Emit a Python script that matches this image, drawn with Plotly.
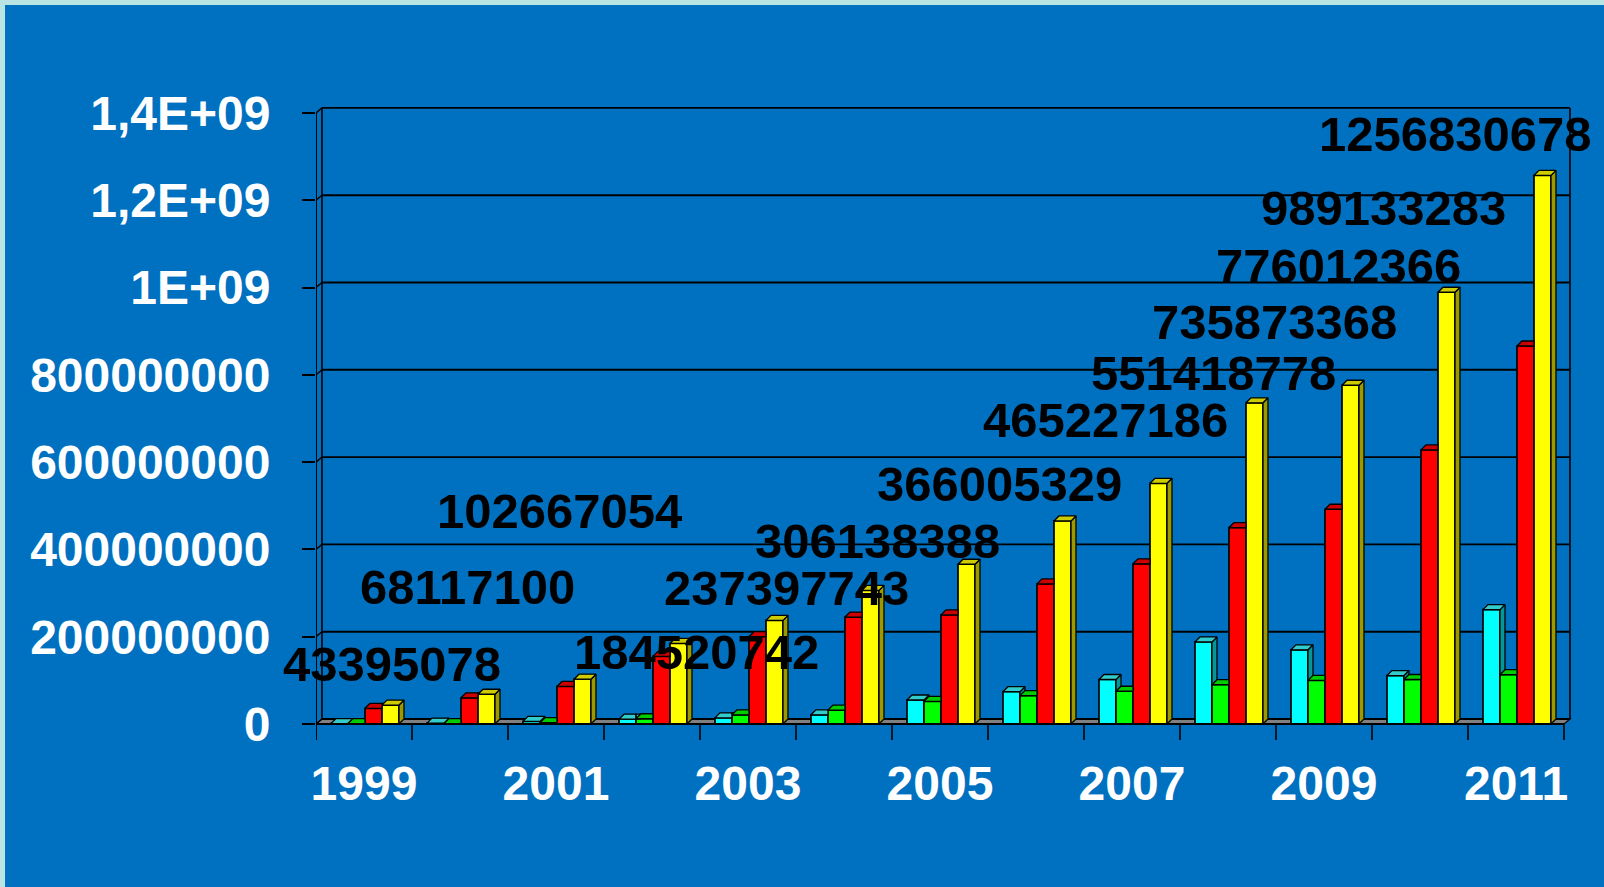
import plotly.graph_objects as go

# ---------------- data ----------------
years = [1999, 2000, 2001, 2002, 2003, 2004, 2005, 2006, 2007, 2008, 2009, 2010, 2011]
cyan_vals = [1e6, 2e6, 6e6, 11e6, 14e6, 21e6, 55e6, 74e6, 102e6, 188e6, 170e6, 111e6, 262e6]
green_vals = [1e6, 1e6, 3e6, 12e6, 21e6, 32e6, 52e6, 65e6, 75e6, 90e6, 100e6, 102e6, 113e6]
red_vals = [36e6, 60e6, 86e6, 155e6, 200e6, 245e6, 250e6, 321e6, 367e6, 450e6, 492e6, 628e6, 866e6]
yellow_vals = [43395078, 68117100, 102667054, 184520742, 237397743, 306138388,
               366005329, 465227186, 551418778, 735873368, 776012366, 989133283,
               1256830678]
year_ticks = [1999, 2001, 2003, 2005, 2007, 2009, 2011]
y_tickvals = [0, 2e8, 4e8, 6e8, 8e8, 1e9, 1.2e9, 1.4e9]
y_ticktext = ["0", "200000000", "400000000", "600000000", "800000000",
              "1E+09", "1,2E+09", "1,4E+09"]

# ---------------- geometry / style ----------------
FIG_W, FIG_H = 1604, 887
M_L, M_R, M_T, M_B = 316, 24, 100, 142
PLOT_W = FIG_W - M_L - M_R
PLOT_H = FIG_H - M_T - M_B
PX_PER_CAT = 96.0
PX_PER_VAL = 87.3 / 2e8
ZERO_PX = 724.0

X_RANGE = [-0.5, -0.5 + PLOT_W / PX_PER_CAT]
Y_RANGE = [-(M_T + PLOT_H - ZERO_PX) / PX_PER_VAL, (ZERO_PX - M_T) / PX_PER_VAL]

BAR_W = 17 / PX_PER_CAT
BAR_OFFSETS = [-0.5 + 15 / PX_PER_CAT + k * BAR_W for k in range(4)]
DX_BAR, DY_BAR = 5 / PX_PER_CAT, 5 / PX_PER_VAL      # bar depth
DX_WALL, DY_WALL = 6 / PX_PER_CAT, 5 / PX_PER_VAL    # wall/floor depth
TICK_DOWN = 16 / PX_PER_VAL

BG_BLUE = "#0070C0"
EDGE = "#B8E4E4"
FONT = "Liberation Sans, Arial, sans-serif"

series = [
    dict(vals=cyan_vals, front="#00FFFF", top="#33CCCC", side="#009999"),
    dict(vals=green_vals, front="#00FF00", top="#00CC00", side="#009900"),
    dict(vals=red_vals, front="#FF0000", top="#CC0000", side="#990000"),
    dict(vals=yellow_vals, front="#FFFF00", top="#CCCC00", side="#999900"),
]

# pixel offsets of each value label from the top centre of its yellow bar
label_shift = [(1.5, -40.6), (-19, -106.8), (-23.5, -168), (17.5, 9), (11.5, -32),
               (6.5, -49), (32.5, -80), (42.5, -101), (54.5, -110), (19.5, -81),
               (-12.5, -119), (-63.5, -84), (-87, -41)]


# ---------------- polygon helpers ----------------
def clip(poly, inside, inter):
    out = []
    n = len(poly)
    for i in range(n):
        cur, prev = poly[i], poly[i - 1]
        if inside(cur):
            if not inside(prev):
                out.append(inter(prev, cur))
            out.append(cur)
        elif inside(prev):
            out.append(inter(prev, cur))
    return out


def clip_x_le(poly, c):
    def inter(p, q):
        t = (c - p[0]) / (q[0] - p[0])
        return (c, p[1] + t * (q[1] - p[1]))
    return clip(poly, lambda p: p[0] <= c + 1e-12, inter)


def clip_x_ge(poly, c):
    def inter(p, q):
        t = (c - p[0]) / (q[0] - p[0])
        return (c, p[1] + t * (q[1] - p[1]))
    return clip(poly, lambda p: p[0] >= c - 1e-12, inter)


def clip_y_ge(poly, c):
    def inter(p, q):
        t = (c - p[1]) / (q[1] - p[1])
        return (p[0] + t * (q[0] - p[0]), c)
    return clip(poly, lambda p: p[1] >= c - 1e-3, inter)


def area_px(poly):
    if len(poly) < 3:
        return 0.0
    s = 0.0
    for i in range(len(poly)):
        x0, y0 = poly[i - 1]
        x1, y1 = poly[i]
        s += (x0 * PX_PER_CAT) * (y1 * PX_PER_VAL) - (x1 * PX_PER_CAT) * (y0 * PX_PER_VAL)
    return abs(s) / 2


def polys_to_xy(polys):
    xs, ys = [], []
    for p in polys:
        if area_px(p) < 0.3:
            continue
        for (x, y) in p + [p[0]]:
            xs.append(x)
            ys.append(y)
        xs.append(None)
        ys.append(None)
    return xs, ys


fig = go.Figure()
idx = list(range(len(years)))

# front faces of the bars
for k, s in enumerate(series):
    fig.add_trace(go.Bar(
        x=idx, y=s["vals"], width=BAR_W, offset=BAR_OFFSETS[k],
        marker=dict(color=s["front"], line=dict(color="black", width=1.7)),
        hoverinfo="skip", showlegend=False,
    ))

# top and side faces, hidden where the next bar's front covers them
for k, s in enumerate(series):
    nxt = series[k + 1]["vals"] if k + 1 < len(series) else None
    tops, sides = [], []
    for i in idx:
        v = s["vals"][i]
        x0 = i + BAR_OFFSETS[k]
        x1 = x0 + BAR_W
        vn = nxt[i] if nxt is not None else 0.0
        side = [(x1, 0.0), (x1 + DX_BAR, DY_BAR), (x1 + DX_BAR, v + DY_BAR), (x1, v)]
        top = [(x0, v), (x1, v), (x1 + DX_BAR, v + DY_BAR), (x0 + DX_BAR, v + DY_BAR)]
        if vn <= 0:
            sides.append(side)
            tops.append(top)
            continue
        if vn < v + DY_BAR:
            sides.append(clip_y_ge(side, vn))
        if vn <= v:
            tops.append(top)
        else:
            tops.append(clip_x_le(top, x1))
            tops.append(clip_y_ge(clip_x_ge(top, x1), vn))
    for polys, col in ((sides, s["side"]), (tops, s["top"])):
        xs, ys = polys_to_xy(polys)
        fig.add_trace(go.Scatter(
            x=xs, y=ys, mode="lines", fill="toself", fillcolor=col,
            line=dict(color="black", width=1.3), hoverinfo="skip", showlegend=False,
        ))

# ---------------- walls, floor, grid ----------------
shapes = []


def seg(x0, y0, x1, y1, w=1.6, layer="below"):
    shapes.append(dict(type="line", xref="x", yref="y", x0=x0, y0=y0, x1=x1, y1=y1,
                       line=dict(color="black", width=w), layer=layer))


left, right = -0.5, len(years) - 0.5
ymax = y_tickvals[-1]

# floor
shapes.append(dict(
    type="path", xref="x", yref="y", layer="below",
    path=(f"M{left},0 L{right},0 L{right + DX_WALL},{DY_WALL} "
          f"L{left + DX_WALL},{DY_WALL} Z"),
    fillcolor="#808080", line=dict(color="black", width=1.2),
))
# back wall grid lines with the diagonal across the side wall
for v in y_tickvals:
    seg(left + DX_WALL, v + DY_WALL, right + DX_WALL, v + DY_WALL, 1.9)
    seg(left, v, left + DX_WALL, v + DY_WALL, 1.4)
# wall verticals
seg(left + DX_WALL, DY_WALL, left + DX_WALL, ymax + DY_WALL, 1.6)
seg(right + DX_WALL, DY_WALL, right + DX_WALL, ymax + DY_WALL, 1.6)
seg(left, -TICK_DOWN, left, ymax, 2.0, "above")
# front floor edge and category ticks
seg(left, 0, right, 0, 2.0, "above")
for i in range(len(years) + 1):
    seg(i - 0.5, 0, i - 0.5, -TICK_DOWN, 1.6, "above")


# light frame on the left and top edges
def px_to_paper_x(px):
    return (px - M_L) / PLOT_W


def px_to_paper_y(py):
    return 1 - (py - M_T) / PLOT_H


shapes.append(dict(type="rect", xref="paper", yref="paper", layer="below",
                   x0=px_to_paper_x(0), x1=px_to_paper_x(5),
                   y0=px_to_paper_y(FIG_H), y1=px_to_paper_y(0),
                   fillcolor=EDGE, line=dict(width=0)))
shapes.append(dict(type="rect", xref="paper", yref="paper", layer="below",
                   x0=px_to_paper_x(0), x1=px_to_paper_x(FIG_W),
                   y0=px_to_paper_y(5), y1=px_to_paper_y(0),
                   fillcolor=EDGE, line=dict(width=0)))

# ---------------- value labels ----------------
annotations = []
yellow_center = BAR_OFFSETS[3] + BAR_W / 2
for i in idx:
    dx, dy = label_shift[i]
    annotations.append(dict(
        x=i + yellow_center, y=yellow_vals[i], xref="x", yref="y",
        text=str(yellow_vals[i]), showarrow=False,
        xanchor="center", yanchor="middle", xshift=dx, yshift=-dy,
        font=dict(family=FONT, size=49, color="black", weight="bold"),
    ))

fig.update_layout(
    width=FIG_W, height=FIG_H,
    margin=dict(l=M_L, r=M_R, t=M_T, b=M_B, pad=0),
    paper_bgcolor=BG_BLUE, plot_bgcolor=BG_BLUE,
    barmode="overlay", showlegend=False,
    shapes=shapes, annotations=annotations,
    xaxis=dict(
        range=X_RANGE, showgrid=False, zeroline=False, showline=False,
        tickmode="array", tickvals=[years.index(y) for y in year_ticks],
        ticktext=[str(y) for y in year_ticks], ticks="", ticklabelstandoff=6,
        tickfont=dict(family=FONT, size=48, color="white", weight="bold"),
        fixedrange=True,
    ),
    yaxis=dict(
        range=Y_RANGE, showgrid=False, zeroline=False, showline=False,
        tickmode="array", tickvals=y_tickvals, ticktext=y_ticktext,
        ticks="outside", ticklen=13, tickwidth=1.6, tickcolor="black",
        ticklabelstandoff=22,
        tickfont=dict(family=FONT, size=48, color="white", weight="bold"),
        fixedrange=True,
    ),
)

fig.write_html("out.html", config={"displayModeBar": False})
